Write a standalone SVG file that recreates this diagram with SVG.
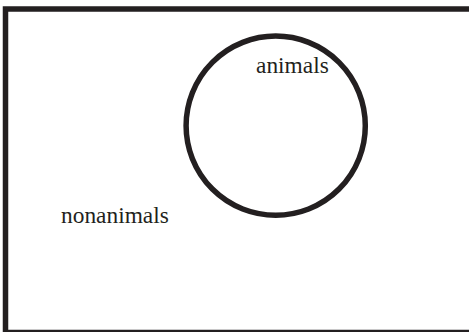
<svg xmlns="http://www.w3.org/2000/svg" width="469" height="332" viewBox="0 0 469 332">
<style>
.ln{fill:none;stroke:#231f20;stroke-width:5.5}
.t{font-family:"Liberation Serif","Times New Roman",serif;font-size:23.4px;fill:#231f20}
</style>
<rect width="469" height="332" fill="#fff"/>
<g id="universe">
<rect class="ln" x="5.5" y="9" width="470" height="323.5"/>
<text class="t" x="61" y="223.3">nonanimals</text>
</g>
<g id="animals">
<circle class="ln" cx="275.7" cy="125.7" r="89.6" stroke-width="5"/>
<text class="t" x="256" y="73">animals</text>
</g>
<g id="connectors"/>
</svg>
